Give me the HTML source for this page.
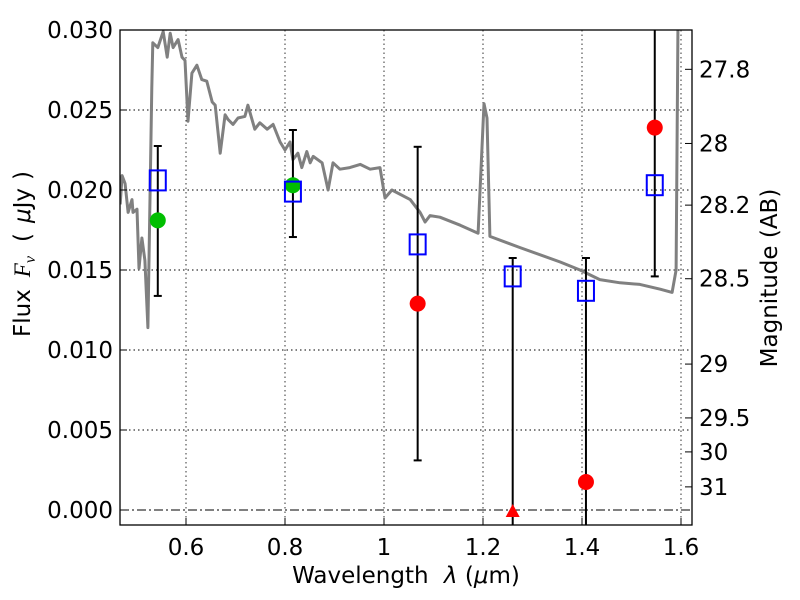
<!DOCTYPE html>
<html><head><meta charset="utf-8"><style>
html,body{margin:0;padding:0;background:#fff;}
svg{display:block;font-family:"DejaVu Sans","Liberation Sans",sans-serif;}
</style></head><body>
<svg id="chart" width="800" height="600" viewBox="0 0 800 600">
<defs><clipPath id="plotclip"><rect x="120" y="30" width="572" height="495"/></clipPath></defs>
<rect x="0" y="0" width="800" height="600" fill="#fff"/>
<g id="grid"></g>
<g id="marks" clip-path="url(#plotclip)"></g>
<g id="errs"></g>
<rect x="120" y="30" width="572" height="495" fill="none" stroke="#000" stroke-width="1.3"/>
<g id="axes"></g>
<text x="406" y="583" font-size="23" text-anchor="middle">Wavelength <tspan dx="8" font-style="italic">λ</tspan> (<tspan font-style="italic">μ</tspan>m)</text>
<text transform="translate(30,254) rotate(-90)" font-size="23" text-anchor="middle">Flux<tspan dx="12" font-family="Liberation Serif, serif" font-style="italic">F</tspan><tspan font-family="Liberation Serif, serif" font-style="italic" font-size="16" dy="5">ν</tspan><tspan dx="14" dy="-5">(</tspan><tspan dx="10" font-style="italic">μ</tspan>Jy<tspan dx="8">)</tspan></text>
<text transform="translate(777,278) rotate(-90)" font-size="23" text-anchor="middle">Magnitude (AB)</text>
</svg>
<script>
const specWave=[0.467,0.471,0.477,0.483,0.491,0.493,0.501,0.505,0.511,0.517,0.523,0.531,0.533,0.543,0.554,0.562,0.568,0.574,0.584,0.592,0.598,0.604,0.612,0.622,0.632,0.642,0.653,0.659,0.669,0.679,0.685,0.695,0.705,0.719,0.725,0.739,0.749,0.764,0.776,0.790,0.800,0.810,0.816,0.826,0.834,0.844,0.851,0.857,0.875,0.887,0.897,0.911,0.931,0.952,0.972,0.992,1.002,1.016,1.053,1.073,1.083,1.093,1.113,1.154,1.190,1.202,1.208,1.214,1.275,1.356,1.396,1.436,1.477,1.517,1.558,1.582,1.590,1.594];
const specFlux=[0.0191,0.0209,0.0204,0.0186,0.0194,0.0186,0.0188,0.0151,0.0170,0.0156,0.0114,0.0264,0.0292,0.0289,0.0299,0.0283,0.0298,0.0289,0.0294,0.0283,0.0281,0.0243,0.0273,0.0278,0.0269,0.0268,0.0255,0.0253,0.0223,0.0247,0.0244,0.0241,0.0245,0.0246,0.0253,0.0238,0.0242,0.0238,0.0241,0.0230,0.0225,0.0230,0.0219,0.0223,0.0214,0.0224,0.0217,0.0221,0.0217,0.0200,0.0217,0.0213,0.0214,0.0216,0.0213,0.0214,0.0195,0.0200,0.0194,0.0186,0.0180,0.0184,0.0183,0.0178,0.0173,0.0254,0.0245,0.0171,0.0164,0.0155,0.0150,0.0144,0.0142,0.0141,0.0138,0.0136,0.0150,0.0306];
const bandWave=[0.543,0.816,1.068,1.260,1.408,1.547];
const modelFlux=[0.0206,0.0199,0.0166,0.0146,0.0137,0.0203];
const errHigh=[0.02275,0.02375,0.0227,0.01575,0.01575,0.032];
const errLow=[0.01338,0.01706,0.0031,-0.002,-0.002,0.0146];
const greenWave=[0.543,0.816];
const greenFlux=[0.0181,0.0203];
const redWave=[1.068,1.408,1.547];
const redFlux=[0.0129,0.00175,0.0239];
const limitWave=[1.260];
const limitFlux=[0.0];
const xTicks=[0.6,0.8,1.0,1.2,1.4,1.6];
const xTickLabels=["0.6","0.8","1","1.2","1.4","1.6"];
const yTicks=[0,0.005,0.010,0.015,0.020,0.025,0.030];
const yTickLabels=["0.000","0.005","0.010","0.015","0.020","0.025","0.030"];
const magTicks=[27.8,28,28.2,28.5,29,29.5,30,31];
const magTickLabels=["27.8","28","28.2","28.5","29","29.5","30","31"];

const NS="http://www.w3.org/2000/svg";
const L=120,R=692,T=30,B=525;
function xs(w){return 186+(w-0.6)*495;}
function ys(f){return 510-f*16000;}
function magToFlux(m){return Math.pow(10,-0.4*(m-23.9));}
function mk(tag,attrs,parent){const e=document.createElementNS(NS,tag);for(const k in attrs)e.setAttribute(k,attrs[k]);parent.appendChild(e);return e;}
const grid=document.getElementById('grid'),marks=document.getElementById('marks'),errs=document.getElementById('errs'),axes=document.getElementById('axes');

xTicks.forEach((v,i)=>{
  const x=xs(v);
  const g=mk('line',{x1:x,x2:x,y1:T,y2:B,stroke:'#000','stroke-width':0.8,'stroke-dasharray':'1.5,3'},grid);
  
  
  const t=mk('line',{x1:x,x2:x,y1:B,y2:B-7,stroke:'#000','stroke-width':1},axes);
  
  
  const lb=mk('text',{x:x,y:B+30,'font-size':23,'text-anchor':'middle'},axes);
  lb.textContent=xTickLabels[i];
  
  
});
yTicks.forEach((v,i)=>{
  const y=ys(v);
  const g=mk('line',{x1:L,x2:R,y1:y,y2:y,stroke:'#000','stroke-width':0.9,'stroke-dasharray':v===0?'9,3,2,3':'1.5,3'},grid);
  
  
  const t=mk('line',{x1:L,x2:L+7,y1:y,y2:y,stroke:'#000','stroke-width':1},axes);
  
  
  const lb=mk('text',{x:L-7,y:y+8,'font-size':23,'text-anchor':'end'},axes);
  lb.textContent=yTickLabels[i];
  
  
});
magTicks.forEach((m,i)=>{
  const y=ys(magToFlux(m));
  const t=mk('line',{x1:R,x2:R-7,y1:y,y2:y,stroke:'#000','stroke-width':1},axes);
  
  
  const lb=mk('text',{x:R+7,y:y+8,'font-size':23,'text-anchor':'start'},axes);
  lb.textContent=magTickLabels[i];
  
  
});

const pts=specWave.map((w,i)=>xs(w).toFixed(1)+','+ys(specFlux[i]).toFixed(1)).join(' ');
const sp=mk('polyline',{points:pts,fill:'none',stroke:'#808080','stroke-width':3,'stroke-linejoin':'round'},marks);



bandWave.forEach((w,i)=>{
  const x=xs(w);
  const y1=Math.max(T,ys(errHigh[i])),y2=Math.min(B,ys(errLow[i]));
  const l=mk('line',{x1:x,x2:x,y1:y1,y2:y2,stroke:'#000','stroke-width':2},errs);
  
  
  if(ys(errHigh[i])>T){const c=mk('line',{x1:x-4,x2:x+4,y1:y1,y2:y1,stroke:'#000','stroke-width':2},errs);
    
    }
  if(ys(errLow[i])<B){const c=mk('line',{x1:x-4,x2:x+4,y1:y2,y2:y2,stroke:'#000','stroke-width':2},errs);
    
    }
});
greenWave.forEach((w,i)=>{
  const c=mk('circle',{cx:xs(w),cy:ys(greenFlux[i]),r:8,fill:'#00bf00'},errs);
  
  
});
bandWave.forEach((w,i)=>{
  const x=xs(w),y=ys(modelFlux[i]);
  const r=mk('rect',{x:x-8,y:y-10,width:16,height:20,fill:'none',stroke:'#0000ff','stroke-width':2},errs);
  
  
});
redWave.forEach((w,i)=>{
  const c=mk('circle',{cx:xs(w),cy:ys(redFlux[i]),r:8,fill:'#ff0000'},errs);
  
  
});
limitWave.forEach((w,i)=>{
  const x=xs(w),y=ys(limitFlux[i]);
  const p=mk('polygon',{points:`${x-7},${y+7} ${x+7},${y+7} ${x},${y-6}`,fill:'#ff0000'},errs);
  
  
});
</script>
</body></html>
